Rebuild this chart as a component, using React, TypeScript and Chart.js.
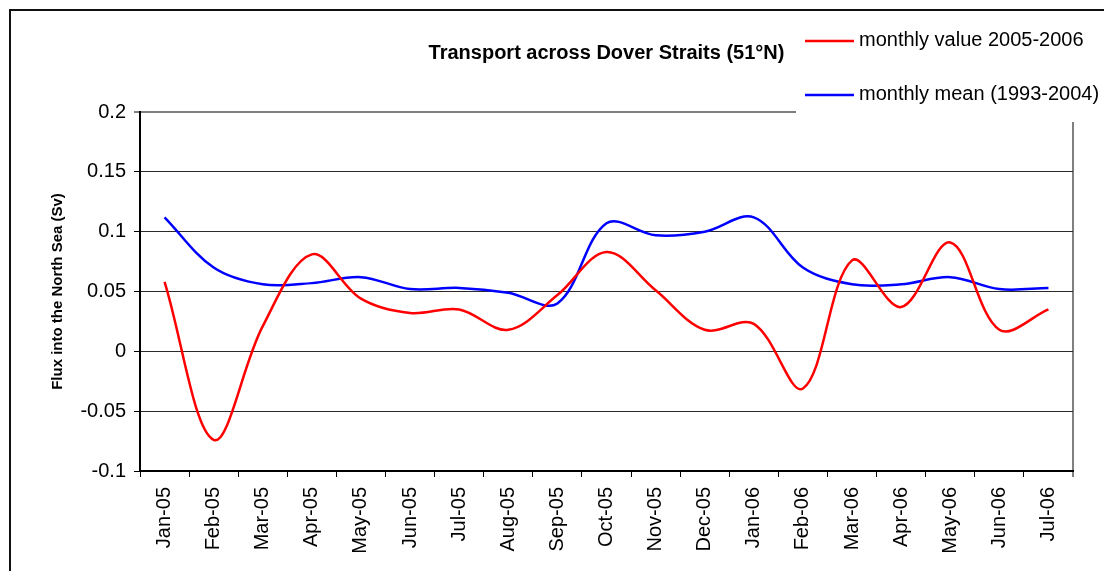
import React, { useEffect, useRef } from 'react';
import { Chart, registerables } from 'chart.js';

Chart.register(...registerables);

const months = [
  'Jan-05', 'Feb-05', 'Mar-05', 'Apr-05', 'May-05', 'Jun-05', 'Jul-05', 'Aug-05', 'Sep-05', 'Oct-05',
  'Nov-05', 'Dec-05', 'Jan-06', 'Feb-06', 'Mar-06', 'Apr-06', 'May-06', 'Jun-06', 'Jul-06',
];
const monthlyValue = [
  0.058, -0.074, 0.021, 0.081, 0.044, 0.032, 0.035, 0.018, 0.047, 0.083,
  0.051, 0.018, 0.023, -0.031, 0.076, 0.037, 0.091, 0.018, 0.035,
];
const monthlyMean = [
  0.112, 0.070, 0.056, 0.057, 0.062, 0.052, 0.053, 0.049, 0.040, 0.107,
  0.097, 0.100, 0.112, 0.070, 0.056, 0.056, 0.062, 0.052, 0.053,
];
const seriesLabels = ['monthly value 2005-2006', 'monthly mean (1993-2004)'];
const seriesColors = ['#ff0000', '#0000ff'];
const chartTitle = 'Transport across Dover Straits (51°N)';
const yAxisTitle = 'Flux into the North Sea (Sv)';

const FONT = '"Liberation Sans", Arial, sans-serif';

const boxLegend = {
  id: 'boxLegend',
  afterDraw(chart: any) {
    const { ctx, chartArea } = chart;
    const boxLeft = chartArea.right - 277;
    const boxTop = 11;
    const boxBottom = chartArea.top + 10;
    ctx.save();
    ctx.fillStyle = '#ffffff';
    ctx.fillRect(boxLeft, boxTop, chart.width - boxLeft, boxBottom - boxTop);
    ctx.font = `20px ${FONT}`;
    ctx.textBaseline = 'middle';
    ctx.textAlign = 'left';
    chart.data.datasets.forEach((ds: any, i: number) => {
      const y = 41 + i * 54;
      ctx.strokeStyle = ds.borderColor;
      ctx.lineWidth = 2.5;
      ctx.beginPath();
      ctx.moveTo(boxLeft + 9, y);
      ctx.lineTo(boxLeft + 58, y);
      ctx.stroke();
      ctx.fillStyle = '#000000';
      ctx.fillText(ds.label, boxLeft + 63, y - 1);
    });
    ctx.restore();
  },
};

export default function App() {
  const canvasRef = useRef<HTMLCanvasElement | null>(null);

  useEffect(() => {
    const canvas = canvasRef.current;
    if (!canvas) return;
    const chart = new Chart(canvas, {
      type: 'line',
      data: {
        labels: months,
        datasets: [
          {
            label: seriesLabels[0],
            data: monthlyValue,
            borderColor: seriesColors[0],
            backgroundColor: seriesColors[0],
            borderWidth: 2.5,
            pointRadius: 0,
            tension: 0.35,
            fill: false,
          },
          {
            label: seriesLabels[1],
            data: monthlyMean,
            borderColor: seriesColors[1],
            backgroundColor: seriesColors[1],
            borderWidth: 2.5,
            pointRadius: 0,
            tension: 0.35,
            fill: false,
          },
        ],
      },
      options: {
        responsive: false,
        animation: false,
        events: [],
        layout: { padding: { left: 10, right: 31, top: 10, bottom: 0 } },
        plugins: {
          legend: { display: false },
          tooltip: { enabled: false },
          title: {
            display: true,
            text: chartTitle,
            fullSize: false,
            color: '#000000',
            font: { family: FONT, size: 20, weight: 'bold' },
            padding: { top: 31, bottom: 47 },
          },
        },
        scales: {
          x: {
            type: 'category',
            offset: true,
            afterFit: (s: any) => { s.height = 100; },
            grid: {
              offset: true,
              drawOnChartArea: true,
              color: (c: any) => (c.index === undefined ? '#808080' : 'rgba(0,0,0,0)'),
              lineWidth: (c: any) => (c.index === undefined ? 2 : 1),
              tickColor: '#000000',
              tickWidth: 1,
              tickLength: 6,
            },
            border: { display: true, color: '#000000', width: 2 },
            ticks: {
              color: '#000000',
              font: { family: FONT, size: 20 },
              minRotation: 90,
              maxRotation: 90,
              autoSkip: false,
              padding: 10,
            },
          },
          y: {
            min: -0.1,
            max: 0.2,
            afterFit: (s: any) => { s.width = 130; },
            grid: {
              color: (c: any) => (c.tick && Math.abs(c.tick.value - 0.2) < 1e-9 ? '#808080' : '#2a2a2a'),
              lineWidth: (c: any) => (c.tick && Math.abs(c.tick.value - 0.2) < 1e-9 ? 2 : 1),
              tickColor: '#000000',
              tickWidth: 1,
              tickLength: 6,
            },
            border: { display: true, color: '#000000', width: 2 },
            title: {
              display: true,
              text: yAxisTitle,
              color: '#000000',
              font: { family: FONT, size: 15, weight: 'bold' },
              padding: { top: 39, bottom: 0 },
            },
            ticks: {
              stepSize: 0.05,
              color: '#000000',
              font: { family: FONT, size: 20 },
              padding: 8,
              callback: (v: any) => String(Number(Number(v).toFixed(2))),
            },
          },
        },
      },
      plugins: [boxLegend],
    });
    return () => chart.destroy();
  }, []);

  return (
    <>
      <canvas
        ref={canvasRef}
        width={1104}
        height={571}
        style={{ position: 'absolute', left: 0, top: 0, width: 1104, height: 571, display: 'block' }}
      />
      <div
        style={{
          position: 'absolute',
          left: 9,
          top: 9,
          width: 1095,
          height: 562,
          boxSizing: 'border-box',
          borderLeft: '2px solid #111',
          borderTop: '2px solid #111',
          pointerEvents: 'none',
        }}
      />
    </>
  );
}
